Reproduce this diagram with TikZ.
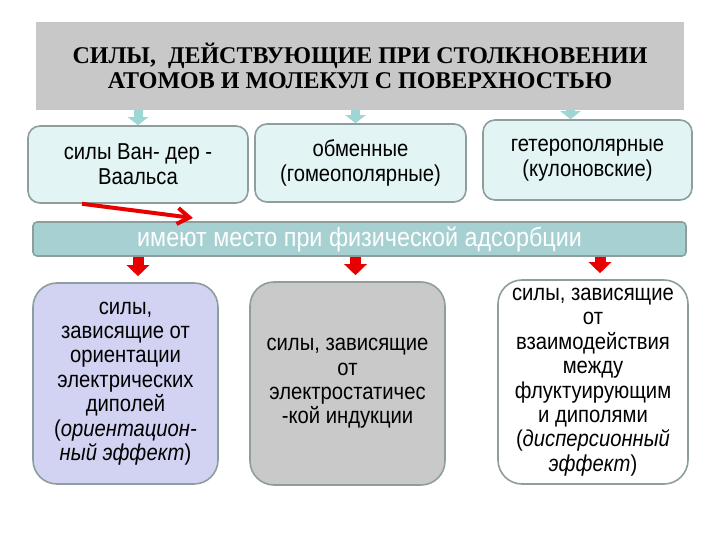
\documentclass[tikz,border=0pt]{standalone}
\usepackage{fontspec}
\setmainfont{Liberation Serif}
\newfontfamily\narrowsans[FakeStretch=0.88]{Liberation Sans}
\usetikzlibrary{arrows.meta,positioning}
\definecolor{titlegray}{HTML}{C8C8C8}
\definecolor{palecyan}{HTML}{E2F4F4}
\definecolor{tealband}{HTML}{A6D0D2}
\definecolor{boxedge}{HTML}{8E9E9E}
\definecolor{lavender}{HTML}{D2D2F2}
\definecolor{midgray}{HTML}{C9C9C9}
\definecolor{arrowcyan}{HTML}{9ED6D6}
\definecolor{brightred}{HTML}{E80000}
\tikzset{
  headbox/.style={
    rectangle, fill=titlegray,
    font=\bfseries\fontsize{24}{25}\selectfont,
    align=center, inner sep=0pt
  },
  kindbox/.style={
    rectangle, rounded corners=12pt,
    draw=boxedge, line width=1.6pt, fill=palecyan,
    font=\narrowsans\fontsize{23}{25}\selectfont,
    align=center, inner sep=0pt
  },
  bandbox/.style={
    rectangle, rounded corners=4pt,
    draw=boxedge, line width=1.6pt, fill=tealband, text=white,
    font=\narrowsans\fontsize{26.5}{28}\selectfont,
    align=center, inner sep=0pt
  },
  effectbox/.style={
    rectangle, rounded corners=24pt,
    draw=boxedge, line width=1.6pt,
    font=\narrowsans\fontsize{23}{24.4}\selectfont,
    align=center, inner sep=0pt
  },
  bluearr/.style={-{Triangle[width=20pt,length=8pt]}, line width=9pt, arrowcyan},
  redarr/.style={-{Triangle[width=22pt,length=11pt]}, line width=11pt, brightred,
    shorten >=6pt},
  slantarr/.style={-{Straight Barb[width=16pt,length=12pt]}, line width=4pt, brightred},
}
\begin{document}
\begin{tikzpicture}[x=1pt, y=-1pt]
  \useasboundingbox (0,0) rectangle (720,540);

  \node[headbox, minimum width=648pt, minimum height=88pt] (title) at (360,66)
    {СИЛЫ,\ \ ДЕЙСТВУЮЩИЕ ПРИ СТОЛКНОВЕНИИ\\АТОМОВ И МОЛЕКУЛ С ПОВЕРХНОСТЬЮ};

  % forces
  \node[kindbox, minimum width=220pt, minimum height=77pt] (vdw) at (138,164.5)
    {силы Ван- дер -\\Ваальса};
  \node[kindbox, minimum width=211pt, minimum height=78pt] (exch) at (360.5,163)
    {обменные\\(гомеополярные)};
  \node[kindbox, minimum width=209pt, minimum height=80pt] (hetero) at (587.5,160)
    {гетерополярные\\(кулоновские)};

  \node[bandbox, minimum width=653pt, minimum height=34pt] (band) at (359.5,239)
    {имеют место при физической адсорбции};

  % effects
  \node[effectbox, fill=lavender, minimum width=185pt, minimum height=201pt]
    (orient) at (125.5,383.5)
    {силы,\\зависящие от\\ориентации\\электрических\\диполей\\
     (\textit{ориентацион-}\\\textit{ный эффект})};
  \node[effectbox, fill=midgray, minimum width=195pt, minimum height=203pt]
    (induct) at (347.5,383.5)
    {силы, зависящие\\от\\электростатичес\\-кой индукции};
  \node[effectbox, fill=white, minimum width=190pt, minimum height=204pt]
    (disp) at (593,382)
    {силы, зависящие\\от\\взаимодействия\\между\\флуктуирующим\\и диполями\\
     (\textit{дисперсионный}\\\textit{эффект})};

  % Arrows
  \draw[bluearr] (title.south -| vdw.north) -- (vdw.north);
  \draw[bluearr] ([xshift=-5pt]title.south -| exch.north) -- ([xshift=-5pt]exch.north);
  \draw[bluearr] ([xshift=-17pt]title.south -| hetero.north) -- ([xshift=-17pt]hetero.north);

  \coordinate (slanttip) at (193,218);
  \draw[slantarr] ([xshift=-56pt]vdw.south) -- (slanttip);

  \draw[redarr] (band.south -| vdw.north) -- (vdw.north |- orient.north);
  \draw[redarr] ([xshift=8pt]band.south -| induct.north) -- ([xshift=8pt]induct.north);
  \draw[redarr] ([xshift=7pt]band.south -| disp.north) -- ([xshift=7pt]disp.north);

\end{tikzpicture}
\end{document}
